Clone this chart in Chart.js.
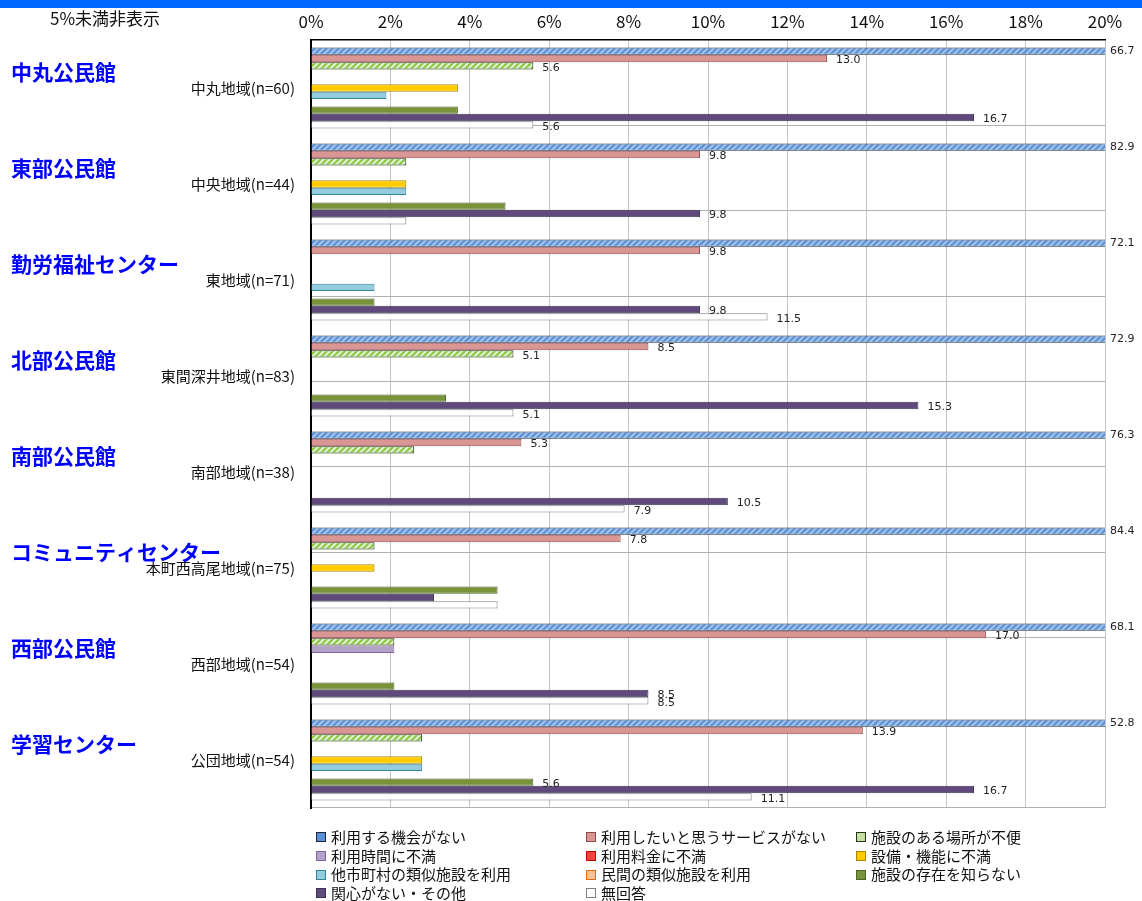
<!DOCTYPE html>
<html>
<head>
<meta charset="utf-8">
<script src="https://cdn.jsdelivr.net/npm/chart.js@4/dist/chart.umd.min.js"></script>
<style>
  body { margin: 0; background: #fff; font-family: "Noto Sans CJK JP", sans-serif; }
  #wrap { position: relative; width: 1142px; height: 901px; overflow: hidden; }
  #topbar { position: absolute; left: 0; top: 0; width: 1142px; height: 8px; background: #0066ff; }
  #note { position: absolute; left: 50px; top: 5px; font-size: 17px; color: #111; }
  #legend { position: absolute; left: 316px; top: 828px; display: grid;
            grid-template-columns: 270px 270px 270px; row-gap: 0; font-size: 15px; color: #111; }
  #legend div { height: 18.7px; line-height: 18.7px; white-space: nowrap; display: flex; align-items: center; }
  #legend span.box { display: inline-block; width: 8px; height: 8px; border: 1px solid #333; margin-right: 5px; }
</style>
</head>
<body>
<div id="wrap">
  <canvas id="graphRiyou" width="1142" height="901"></canvas>
  <div id="topbar"></div>
  <div id="note">5%未満非表示</div>
  <div id="legend"></div>
</div>
<script>
// 施設名・地域名
var facilities = ['中丸公民館', '東部公民館', '勤労福祉センター', '北部公民館', '南部公民館', 'コミュニティセンター', '西部公民館', '学習センター'];
var areas = ['中丸地域(n=60)', '中央地域(n=44)', '東地域(n=71)', '東間深井地域(n=83)', '南部地域(n=38)', '本町西高尾地域(n=75)', '西部地域(n=54)', '公団地域(n=54)'];

var seriesNames = ['利用する機会がない', '利用したいと思うサービスがない', '施設のある場所が不便',
    '利用時間に不満', '利用料金に不満', '設備・機能に不満',
    '他市町村の類似施設を利用', '民間の類似施設を利用', '施設の存在を知らない',
    '関心がない・その他', '無回答'];

// 値 (%)
var kikai    = [66.7, 82.9, 72.1, 72.9, 76.3, 84.4, 68.1, 52.8];
var service  = [13.0, 9.8, 9.8, 8.5, 5.3, 7.8, 17.0, 13.9];
var basho    = [5.6, 2.4, 0, 5.1, 2.6, 1.6, 2.1, 2.8];
var jikan    = [0, 0, 0, 0, 0, 0, 2.1, 0];
var ryokin   = [0, 0, 0, 0, 0, 0, 0, 0];
var setsubi  = [3.7, 2.4, 0, 0, 0, 1.6, 0, 2.8];
var tashi    = [1.9, 2.4, 1.6, 0, 0, 0, 0, 2.8];
var minkan   = [0, 0, 0, 0, 0, 0, 0, 0];
var shiranai = [3.7, 4.9, 1.6, 3.4, 0, 4.7, 2.1, 5.6];
var kanshin  = [16.7, 9.8, 9.8, 15.3, 10.5, 3.1, 8.5, 16.7];
var mukaitou = [5.6, 2.4, 11.5, 5.1, 7.9, 4.7, 8.5, 11.1];

var xTicks = [0, 2, 4, 6, 8, 10, 12, 14, 16, 18, 20];

function stripes(bg, fg) {
    var c = document.createElement('canvas');
    c.width = 6; c.height = 6;
    var g = c.getContext('2d');
    g.fillStyle = bg;
    g.fillRect(0, 0, 6, 6);
    g.strokeStyle = fg;
    g.lineWidth = 2;
    g.beginPath();
    g.moveTo(-1, 7); g.lineTo(7, -1);
    g.moveTo(-4, 4); g.lineTo(4, -4);
    g.moveTo(2, 10); g.lineTo(10, 2);
    g.stroke();
    return g.createPattern(c, 'repeat');
}

var fills = [stripes('#5b8fd6', '#a3c3ee'), '#d99694', stripes('#e2efd0', '#86c940'),
    '#b3a2c7', '#ff4040', '#ffcc00', '#93cddd', '#fac090', '#77933c', '#604a7b', '#ffffff'];
var legendFills = ['#5b8fd6', '#d99694', '#c3e0a0', '#b3a2c7', '#ff4040', '#ffcc00', '#93cddd', '#fac090', '#77933c', '#604a7b', '#ffffff'];
var borders = ['#1a2740', '#8e4a48', '#26301a', '#8064a2', '#c00000', '#a68500', '#31859c', '#e46c0a', '#4f6228', '#3f3151', '#808080'];
var values = [kikai, service, basho, jikan, ryokin, setsubi, tashi, minkan, shiranai, kanshin, mukaitou];

var valueLabels = {
    id: 'valueLabels',
    afterDatasetsDraw: function (chart) {
        var ctx = chart.ctx, area = chart.chartArea;
        ctx.save();
        ctx.font = '11px "DejaVu Sans"';
        ctx.fillStyle = '#222';
        ctx.textBaseline = 'middle';
        ctx.textAlign = 'left';
        chart.data.datasets.forEach(function (ds, i) {
            chart.getDatasetMeta(i).data.forEach(function (bar, j) {
                var v = ds.data[j];
                if (v == null || v < 5) return;
                var over = bar.x > area.right;
                ctx.fillText(v.toFixed(1), over ? area.right + 5 : bar.x + 9, over ? bar.y : bar.y + 2);
            });
        });
        ctx.restore();
    }
};

var facilityNames = {
    id: 'facilityNames',
    afterDraw: function (chart) {
        var ctx = chart.ctx, s = chart.scales.y;
        ctx.save();
        ctx.font = 'bold 21px "Noto Sans CJK JP"';
        ctx.fillStyle = '#0000ff';
        ctx.textBaseline = 'middle';
        ctx.textAlign = 'left';
        facilities.forEach(function (n, i) {
            ctx.fillText(n, 11, s.getPixelForValue(i) - 16);
        });
        ctx.restore();
    }
};

var graphRiyou = document.getElementById('graphRiyou').getContext('2d');
new Chart(graphRiyou, {
    type: 'bar',
    data: {
        labels: areas,
        datasets: seriesNames.map(function (name, i) {
            return {
                label: name,
                data: values[i].map(function (v) { return v || null; }),
                backgroundColor: fills[i],
                borderColor: borders[i],
                borderWidth: 1,
                categoryPercentage: 0.845,
                barPercentage: 1.0
            };
        })
    },
    plugins: [valueLabels, facilityNames],
    options: {
        indexAxis: 'y',
        responsive: false,
        animation: false,
        layout: {
            padding: { left: 0, right: 37, top: 0, bottom: 93 }
        },
        scales: {
            x: {
                position: 'top',
                min: 0,
                max: 20,
                afterBuildTicks: function (scale) {
                    scale.ticks = xTicks.map(function (v) { return { value: v }; });
                },
                afterFit: function (scale) { scale.height = 40; },
                ticks: {
                    padding: 8,
                    color: '#111',
                    font: { size: 17, family: '"Noto Sans CJK JP"' },
                    callback: function (v) { return v + '%'; }
                },
                grid: { color: '#c4c4c4', lineWidth: 1, drawTicks: false },
                border: { color: '#000', width: 1.5 }
            },
            y: {
                afterFit: function (scale) { scale.width = 311; },
                ticks: {
                    padding: 16,
                    color: '#111',
                    font: { size: 15, family: '"Noto Sans CJK JP"' }
                },
                grid: { display: false, drawTicks: false },
                border: { color: '#000', width: 2 }
            },
            y2: {
                type: 'category',
                position: 'right',
                labels: ['', '', '', '', '', '', '', '', ''],
                afterFit: function (scale) { scale.width = 0; },
                ticks: { display: false },
                grid: { offset: true, color: '#b0b0b0', lineWidth: 1, drawTicks: false },
                border: { display: false }
            }
        },
        plugins: {
            legend: { display: false },
            tooltip: { enabled: false }
        }
    }
});

// 凡例
var legend = document.getElementById('legend');
seriesNames.forEach(function (name, i) {
    var d = document.createElement('div');
    d.innerHTML = '<span class="box" style="background:' + legendFills[i] + ';border-color:' + borders[i] + '"></span>' + name;
    legend.appendChild(d);
});
</script>
</body>
</html>
